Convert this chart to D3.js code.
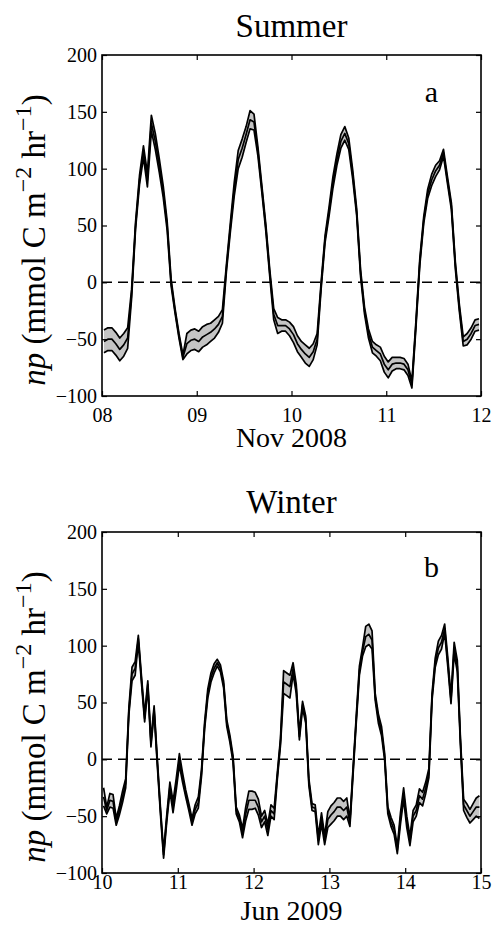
<!DOCTYPE html>
<html>
<head>
<meta charset="utf-8">
<script src="https://cdn.jsdelivr.net/npm/d3@7"></script>
<style>
body{margin:0;background:#fff;}
svg text{font-family:"Liberation Serif","Times New Roman",serif;fill:#000;}
</style>
</head>
<body>
<svg id="chart" width="492" height="925"></svg>
<script>
// hourly np, mean and half-width of the band (mmol C m-2 hr-1)
var summerMean = [-52,-50,-50,-54,-59,-55,-49,-10,50,90,
	115,90,140,124,103,80,50,0,-25,-47,
	-66,-54,-51,-50,-52,-48,-46,-44,-41,-37,
	-30,12,48,82,108,118,130,143,141,115,
	82,48,8,-28,-38,-38,-38,-41,-46,-54,
	-59,-63,-66,-61,-50,-3,38,62,88,108,
	124,131,122,95,62,8,-25,-45,-57,-60,
	-63,-72,-77,-72,-71,-71,-72,-77,-90,-38,
	18,55,78,90,98,103,114,90,67,15,
	-22,-52,-50,-45,-38,-37];
var summerErr = [10,10,10,10,10,10,9,4,3,4,
	5,6,7,7,6,5,4,3,2,2,
	2,9,9,9,9,9,9,8,8,7,
	6,3,4,6,8,8,7,8,7,4,
	3,3,3,5,7,5,5,6,7,7,
	7,8,8,7,5,3,3,4,5,5,
	6,6,5,4,3,3,3,4,5,5,
	6,7,7,6,5,5,5,5,3,3,
	3,3,4,5,5,4,3,3,3,3,
	3,4,5,5,5,5];
var winterMean = [-33,-45,-36,-37,-55,-45,-33,-21,42,75,
	80,106,70,36,66,14,44,-2,-45,-84,
	-52,-24,-42,-22,0,-16,-30,-42,-55,-44,
	-38,-12,30,58,72,80,85,80,66,32,
	18,0,-45,-52,-65,-48,-36,-36,-36,-42,
	-55,-50,-62,-45,-48,-15,15,68,66,64,
	80,62,20,48,35,-20,-42,-43,-71,-52,
	-71,-53,-49,-46,-42,-42,-45,-42,-56,-10,
	35,78,95,108,110,105,55,36,25,2,
	-45,-55,-62,-80,-52,-30,-55,-72,-50,-45,
	-32,-35,-25,-12,55,85,98,103,115,85,
	52,98,82,15,-40,-45,-50,-46,-42,-42];
var winterErr = [8,3,6,6,3,4,5,4,3,6,
	6,3,3,3,3,3,3,3,3,3,
	3,4,5,5,5,4,3,3,3,4,
	5,3,3,4,4,4,3,3,3,3,
	3,3,3,3,4,6,8,8,7,7,
	5,5,5,5,5,3,3,10,10,10,
	5,4,3,3,3,3,3,3,4,5,
	4,7,8,8,8,8,8,8,3,3,
	3,4,4,9,9,8,3,4,4,3,
	3,4,4,3,5,5,5,4,5,5,
	6,6,5,4,3,4,6,6,4,4,
	3,5,5,3,5,6,6,7,8,10];

var yTicks = [-100,-50,0,50,100,150,200];
var summerDays = ["08","09","10","11","12"];
var winterDays = ["10","11","12","13","14","15"];

var svg = d3.select("#chart");
var left = 102, right = 481, height = 341;
var serif = '"Liberation Serif","Times New Roman",serif';

function panel(o){
	var g = svg.append("g").attr("transform","translate(0,"+o.top+")");
	var hours = (o.days.length-1)*24;
	var x = d3.scaleLinear().domain([0,hours]).range([left,right]);
	var y = d3.scaleLinear().domain([-100,200]).range([height,0]);

	var pts = o.mean.map(function(d,i){
		return {t:i+0.5, m:d, lo:d-o.err[i], hi:d+o.err[i]};
	});

	g.append("clipPath").attr("id","clip"+o.name)
		.append("rect").attr("x",left).attr("y",0).attr("width",right-left).attr("height",height);
	var plot = g.append("g").attr("clip-path","url(#clip"+o.name+")");

	plot.append("path").datum(pts)
		.attr("d",d3.area().x(function(d){return x(d.t)}).y0(function(d){return y(d.lo)}).y1(function(d){return y(d.hi)}))
		.attr("fill","#c4c4c4");
	["hi","lo","m"].forEach(function(k){
		plot.append("path").datum(pts)
			.attr("d",d3.line().x(function(d){return x(d.t)}).y(function(d){return y(d[k])}))
			.attr("fill","none").attr("stroke","#000").attr("stroke-width",1.7)
			.attr("stroke-linejoin","round");
	});

	g.append("line").attr("x1",left).attr("x2",right).attr("y1",y(0)).attr("y2",y(0))
		.attr("stroke","#000").attr("stroke-width",1.5).attr("stroke-dasharray","10,6");

	var tv = o.days.map(function(d,i){return i*24});
	var xb = g.append("g").attr("transform","translate(0,"+height+")")
		.call(d3.axisBottom(x).tickValues(tv).tickSize(-5).tickSizeOuter(0).tickPadding(o.pad)
			.tickFormat(function(d,i){return o.days[i]}));
	var xt = g.append("g")
		.call(d3.axisTop(x).tickValues(tv).tickSize(-5).tickSizeOuter(0).tickFormat(""));
	var yl = g.append("g").attr("transform","translate("+left+",0)")
		.call(d3.axisLeft(y).tickValues(yTicks).tickSize(-5).tickSizeOuter(0).tickPadding(5)
			.tickFormat(function(d){return d<0 ? "\u2212"+(-d) : d}));
	var yr = g.append("g").attr("transform","translate("+right+",0)")
		.call(d3.axisRight(y).tickValues(yTicks).tickSize(-5).tickSizeOuter(0).tickFormat(""));
	[xb,xt,yl,yr].forEach(function(a){
		a.attr("font-family",serif);
		a.select(".domain").remove();
		a.selectAll(".tick line").attr("stroke-width",1.2);
		a.selectAll("text").attr("font-size",20).style("font-family",serif);
	});

	g.append("rect").attr("x",left).attr("y",0).attr("width",right-left).attr("height",height)
		.attr("fill","none").attr("stroke","#000").attr("stroke-width",1.6);

	g.append("text").attr("x",(left+right)/2).attr("y",o.titleY).attr("text-anchor","middle")
		.attr("font-size",33).text(o.title);
	g.append("text").attr("x",(left+right)/2).attr("y",height+o.labelY).attr("text-anchor","middle")
		.attr("font-size",28).text(o.xlabel);
	g.append("text").attr("x",431.5).attr("y",o.letterY).attr("text-anchor","middle")
		.attr("font-size",30).text(o.letter);

	var yt = g.append("text").attr("text-anchor","middle").attr("font-size",33)
		.attr("transform","translate(45,185) rotate(-90)");
	yt.append("tspan").attr("font-style","italic").text("np");
	yt.append("tspan").text(" (mmol C m");
	yt.append("tspan").attr("dy",-14).attr("font-size",24).text("\u22122");
	yt.append("tspan").attr("dy",14).text(" hr");
	yt.append("tspan").attr("dy",-14).attr("font-size",24).text("\u22121");
	yt.append("tspan").attr("dy",14).text(")");
}

panel({name:"a", top:55, title:"Summer", xlabel:"Nov 2008", letter:"a", days:summerDays,
	mean:summerMean, err:summerErr, pad:12, titleY:-18, labelY:51, letterY:46.5});
panel({name:"b", top:532, title:"Winter", xlabel:"Jun 2009", letter:"b", days:winterDays,
	mean:winterMean, err:winterErr, pad:2, titleY:-19, labelY:47, letterY:45});
</script>
</body>
</html>
